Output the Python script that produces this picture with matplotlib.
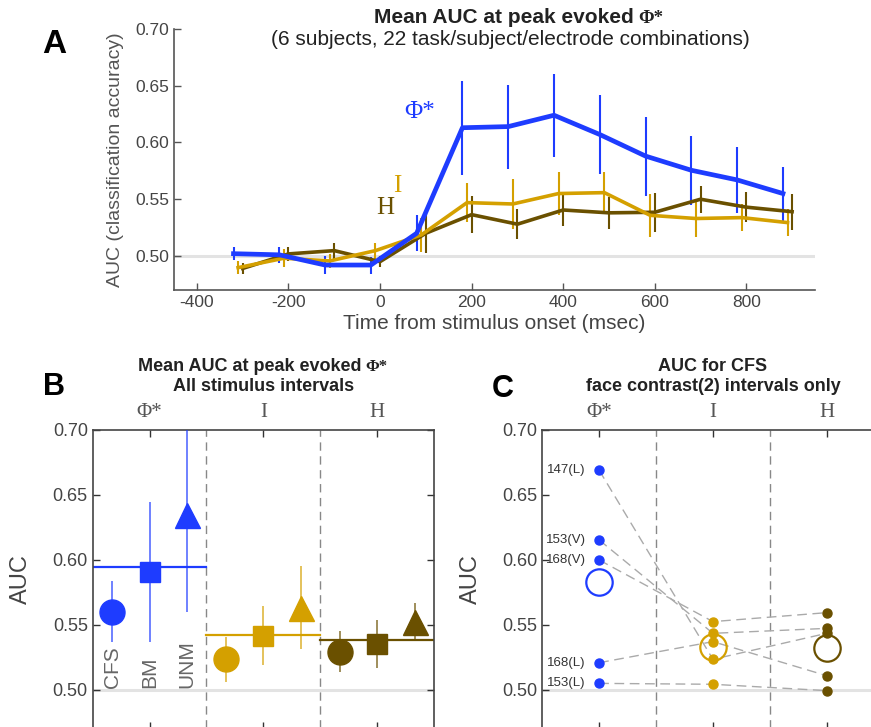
import numpy as np
import matplotlib
matplotlib.use("Agg")
import matplotlib.pyplot as plt

plt.rcParams['font.family'] = ['Liberation Sans', 'DejaVu Sans']
plt.rcParams['axes.unicode_minus'] = False

# ---- data ----
# panel A: mean AUC vs time, one series per measure
t_phi = [-320, -220, -120, -20, 80, 180, 280, 380, 480, 580, 680, 780, 880]
t_i = [-310, -210, -110, -10, 90, 190, 290, 390, 490, 590, 690, 790, 890]
t_h = [-300, -200, -100, 0, 100, 200, 300, 400, 500, 600, 700, 800, 900]

auc_phi = [0.502, 0.501, 0.492, 0.492, 0.520, 0.613, 0.614, 0.624, 0.607, 0.588, 0.5755, 0.567, 0.555]
err_phi = [0.006, 0.007, 0.008, 0.0075, 0.016, 0.0415, 0.037, 0.0365, 0.035, 0.0348, 0.0304, 0.0294, 0.0238]
auc_i = [0.4897, 0.498, 0.4956, 0.5047, 0.5185, 0.547, 0.5458, 0.555, 0.5558, 0.5358, 0.533, 0.5338, 0.5294]
err_i = [0.006, 0.008, 0.006, 0.007, 0.015, 0.017, 0.022, 0.019, 0.018, 0.019, 0.016, 0.012, 0.012]
auc_h = [0.489, 0.5018, 0.5047, 0.495, 0.520, 0.5364, 0.528, 0.5405, 0.538, 0.5385, 0.550, 0.543, 0.539]
err_h = [0.005, 0.006, 0.007, 0.005, 0.017, 0.016, 0.013, 0.014, 0.014, 0.017, 0.012, 0.013, 0.016]

# panel B: CFS / BM / UNM per measure
tasks = ['CFS', 'BM', 'UNM']
b_phi = [0.5603, 0.5905, 0.6346]
b_phi_err = [0.0237, 0.0539, 0.0746]
b_i = [0.5236, 0.5418, 0.5633]
b_i_err = [0.0172, 0.0227, 0.0317]
b_h = [0.5295, 0.5354, 0.5523]
b_h_err = [0.016, 0.0183, 0.0149]
b_means = [0.5949, 0.5423, 0.5385]

# panel C: CFS face contrast, per electrode
sites = ['147(L)', '153(V)', '168(V)', '168(L)', '153(L)']
c_phi = [0.669, 0.6154, 0.600, 0.521, 0.5051]
c_i = [0.5236, 0.5436, 0.5526, 0.5372, 0.5044]
c_h = [0.5436, 0.5474, 0.5595, 0.511, 0.4995]
c_means = [0.5828, 0.5328, 0.532]

measures = ['\u03a6*', 'I', 'H']

BLUE = '#1e3cff'
GOLD = '#d4a000'
BROWN = '#6a5000'
SPINE = '#555555'

W, H = 871, 727


def fx(px):
    return px / W


def fy(py):
    return 1 - py / H


def title_with_phi(x_end, y, text, size, phi_size):
    # bold sans text, then a serif Phi* right after it
    fig.text(fx(x_end), fy(y), text, fontsize=size, fontweight='bold',
             color='#222222', ha='right', va='baseline')
    fig.text(fx(x_end + 0.3 * size), fy(y), '\u03a6*', fontsize=phi_size, fontweight='bold',
             family='Liberation Serif', color='#222222', ha='left', va='baseline')


fig = plt.figure(figsize=(W / 100, H / 100), dpi=100)

# ================= panel A =================
axA = fig.add_axes([fx(174), fy(290), (815 - 174) / W, (290 - 29) / H])
axA.axhline(0.5, color='#e3e3e3', lw=2.2, zorder=0)
for t, y, e, c, lw in [(t_h, auc_h, err_h, BROWN, 2.6), (t_i, auc_i, err_i, GOLD, 2.6),
                       (t_phi, auc_phi, err_phi, BLUE, 3.4)]:
    axA.errorbar(t, y, yerr=e, color=c, lw=lw, elinewidth=1.5, capsize=0)
axA.set_xlim(-450, 950)
axA.set_ylim(0.47, 0.70)
axA.set_xticks([-400, -200, 0, 200, 400, 600, 800])
axA.set_yticks([0.50, 0.55, 0.60, 0.65, 0.70])
axA.set_yticklabels(['%.2f' % v for v in axA.get_yticks()])
for s in ['top', 'right']:
    axA.spines[s].set_visible(False)
for s in ['left', 'bottom']:
    axA.spines[s].set_color(SPINE)
    axA.spines[s].set_linewidth(1.2)
axA.tick_params(direction='in', length=5, width=1, color=SPINE, labelcolor='#444444', labelsize=12.5)
axA.set_xlabel('Time from stimulus onset (msec)', fontsize=15, color='#444444', labelpad=3)
axA.set_ylabel('AUC (classification accuracy)', fontsize=14, color='#555555')
axA.yaxis.set_label_coords(-0.078, 0.5)
axA.yaxis.label.set_va('bottom')

axA.text(86, 0.627, '\u03a6*', color=BLUE, fontsize=18, family='Liberation Serif', ha='center', va='center')
axA.text(38, 0.562, 'I', color=GOLD, fontsize=18, family='Liberation Serif', ha='center', va='center')
axA.text(12, 0.542, 'H', color=BROWN, fontsize=18, family='Liberation Serif', ha='center', va='center')

title_with_phi(634, 23, 'Mean AUC at peak evoked', 15, 13.5)
fig.text(fx(510), fy(45), '(6 subjects, 22 task/subject/electrode combinations)', fontsize=15,
         color='#222222', ha='center', va='baseline')
fig.text(fx(42), fy(53), 'A', fontsize=24, fontweight='bold', ha='left', va='baseline')


def style_box(ax):
    ax.set_xlim(0.5, 3.5)
    ax.set_ylim(0.47, 0.70)
    ax.axhline(0.5, color='#e3e3e3', lw=2.2, zorder=0)
    for xv in [1.5, 2.5]:
        ax.axvline(xv, color='#888888', lw=1, ls=(0, (6, 4)), zorder=0)
    ax.set_xticks([1, 2, 3])
    ax.set_xticklabels([])
    ax.set_yticks([0.50, 0.55, 0.60, 0.65, 0.70])
    ax.set_yticklabels(['%.2f' % v for v in ax.get_yticks()])
    ax.tick_params(direction='in', length=5, width=1, color='#333333', labelcolor='#444444',
                   labelsize=13, top=True, right=True)
    for s in ax.spines.values():
        s.set_color('#444444')
        s.set_linewidth(1.2)
    for k, m in enumerate(measures):
        ax.text(k + 1, 1 + 13 / 299, m, transform=ax.get_xaxis_transform(), fontsize=15,
                family='Liberation Serif', color='#555555', ha='center', va='baseline')
    ax.set_ylabel('AUC', fontsize=17, color='#444444')
    ax.yaxis.set_label_coords(-0.177, 0.5)
    ax.yaxis.label.set_va('bottom')


# ================= panel B =================
axB = fig.add_axes([fx(92.7), fy(729), 341.3 / W, 299 / H])
style_box(axB)
offsets = [-0.33, 0.0, 0.33]
shapes = ['o', 's', '^']
sizes = [18, 14.5, 18]
for k, (vals, errs, c) in enumerate([(b_phi, b_phi_err, BLUE), (b_i, b_i_err, GOLD), (b_h, b_h_err, BROWN)]):
    axB.plot([k + 0.5, k + 1.5], [b_means[k], b_means[k]], color=c, lw=1.6, zorder=2)
    for j in range(3):
        axB.errorbar(k + 1 + offsets[j], vals[j], yerr=errs[j], fmt='none', ecolor=c,
                     elinewidth=1.2, alpha=0.75, capsize=0, zorder=3)
        axB.plot(k + 1 + offsets[j], vals[j], marker=shapes[j], ms=sizes[j], color=c, mec=c,
                 ls='none', zorder=4)
for j, name in enumerate(tasks):
    axB.text(1 + offsets[j], 0.5015, name, rotation=90, fontsize=15, color='#666666',
             ha='center', va='bottom')

title_with_phi(361, 371, 'Mean AUC at peak evoked', 13, 12)
fig.text(fx(263.5), fy(391), 'All stimulus intervals', fontsize=13, fontweight='bold',
         color='#222222', ha='center', va='baseline')
fig.text(fx(43), fy(395), 'B', fontsize=22, fontweight='bold', ha='left', va='baseline')

# ================= panel C =================
axC = fig.add_axes([fx(542.3), fy(729), 341.3 / W, 299 / H])
style_box(axC)
for a, b, c in zip(c_phi, c_i, c_h):
    axC.plot([1, 2, 3], [a, b, c], color='#aaaaaa', lw=1, ls=(0, (7, 4)), zorder=1)
for k, (vals, c) in enumerate([(c_phi, BLUE), (c_i, GOLD), (c_h, BROWN)]):
    axC.plot([k + 1] * len(vals), vals, 'o', ms=6.5, color=c, zorder=3)
    axC.plot(k + 1, c_means[k], 'o', ms=19, mfc='none', mec=c, mew=1.6, zorder=4)
for name, v in zip(sites, c_phi):
    axC.text(0.88, v, name, fontsize=9.5, color='#333333', ha='right', va='center')

fig.text(fx(713), fy(371), 'AUC for CFS', fontsize=13, fontweight='bold',
         color='#222222', ha='center', va='baseline')
fig.text(fx(713), fy(391), 'face contrast(2) intervals only', fontsize=13, fontweight='bold',
         color='#222222', ha='center', va='baseline')
fig.text(fx(492), fy(397), 'C', fontsize=22, fontweight='bold', ha='left', va='baseline')

fig.savefig('out.png', dpi=100)
